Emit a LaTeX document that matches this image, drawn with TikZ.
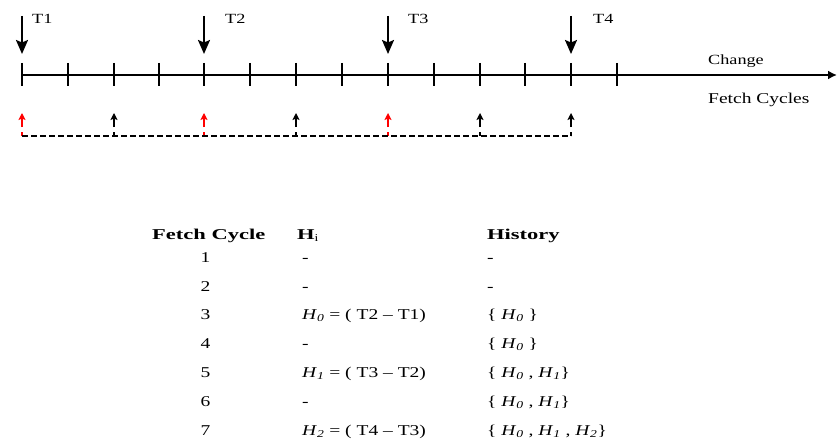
\documentclass[tikz,border=0pt]{standalone}
\usepackage{fontspec}
\setmainfont[FakeStretch=1.3]{Liberation Serif}
\newfontfamily\widefont[FakeStretch=1.5]{Liberation Serif}
\usetikzlibrary{arrows.meta}
\newcommand{\Hs}[1]{\textit{H}\textsubscript{\textit{#1}}}
\begin{document}
\begin{tikzpicture}[x=1pt,y=-1pt,
  axis/.style={line width=2pt,-{Latex[length=9pt,width=9pt]}},
  tickline/.style={line width=2pt},
  bigarrow/.style={line width=2pt,-{Stealth[length=14pt,width=12pt,inset=2.5pt]}},
  uparr/.style={line width=1.2pt,-{Stealth[length=7pt,width=7pt,inset=1.5pt]}},
  dashline/.style={line width=1.4pt,dash pattern=on 6pt off 3pt},
  lbl/.style={font=\fontsize{14}{16}\selectfont,inner sep=0pt,anchor=base west},
  tbl/.style={font=\fontsize{15}{17}\selectfont,inner sep=0pt,anchor=base west},
  num/.style={font=\fontsize{15}{17}\selectfont,inner sep=0pt,anchor=base},
  hdr/.style={font=\widefont\bfseries\fontsize{15}{17}\selectfont,inner sep=0pt,anchor=base west},
]
\useasboundingbox (0,0) rectangle (837,441);
% timeline
\coordinate (start) at (22,75);
\coordinate (end) at (837,75);
\draw[axis] (start) -- (end);
\foreach \x [count=\i from 0] in {22,68,114,159,204,250,296,342,388,434,480,525,571,617} {
  \coordinate (t\i) at (\x,75);
  \draw[tickline] (t\i) ++(0,-12) -- ++(0,23);
}
% T arrows
\draw[bigarrow] (22,16) coordinate (top1) -- (t0 |- 0,54) coordinate (tip1);
\draw[bigarrow] (204,16) coordinate (top2) -- (t4 |- 0,54) coordinate (tip2);
\draw[bigarrow] (388,16) coordinate (top3) -- (t8 |- 0,54) coordinate (tip3);
\draw[bigarrow] (571,16) coordinate (top4) -- (t12 |- 0,54) coordinate (tip4);
\node[lbl] (T1) at (32,24) {T1};
\node[lbl] (T2) at (225,24) {T2};
\node[lbl] (T3) at (408,24) {T3};
\node[lbl] (T4) at (593,24) {T4};
\node[lbl] (change) at (708,65) {Change};
\node[lbl,font=\fontsize{15}{17}\selectfont] (fetch) at (708,103) {Fetch Cycles};
% fetch arrows
\foreach \x/\c [count=\k] in {22/red,114/black,204/red,296/black,388/red,480/black,571/black} {
  \coordinate (b\k) at (\x,136);
  \coordinate (m\k) at (\x,127);
  \coordinate (u\k) at (\x,113);
  \draw[line width=1.2pt,\c] (b\k) -- ++(0,-4);
  \draw[uparr,\c] (m\k) -- (u\k);
}
\draw[dashline] (b1) -- (b7);
% table
\node[hdr] (hfc) at (152,239) {Fetch Cycle};
\node[hdr] (hhi) at (297,239) {H\textsubscript{\normalfont i}};
\node[hdr] (hhist) at (487,239) {History};
\foreach \n/\y/\h/\s in {
  1/262/-/-,
  2/291/-/-,
  3/319/{\Hs{0} = ( T2 -- T1)}/{\{ \Hs{0} \}},
  4/348/-/{\{ \Hs{0} \}},
  5/377/{\Hs{1} = ( T3 -- T2)}/{\{ \Hs{0} , \Hs{1}\}},
  6/406/-/{\{ \Hs{0} , \Hs{1}\}},
  7/435/{\Hs{2} = ( T4 -- T3)}/{\{ \Hs{0} , \Hs{1} , \Hs{2}\}}} {
  \node[num] (c\n) at (205.5,\y) {\n};
  \node[tbl] (h\n) at (302,\y) {\h};
  \node[tbl] (s\n) at (487,\y) {\s};
}
\end{tikzpicture}
\end{document}
